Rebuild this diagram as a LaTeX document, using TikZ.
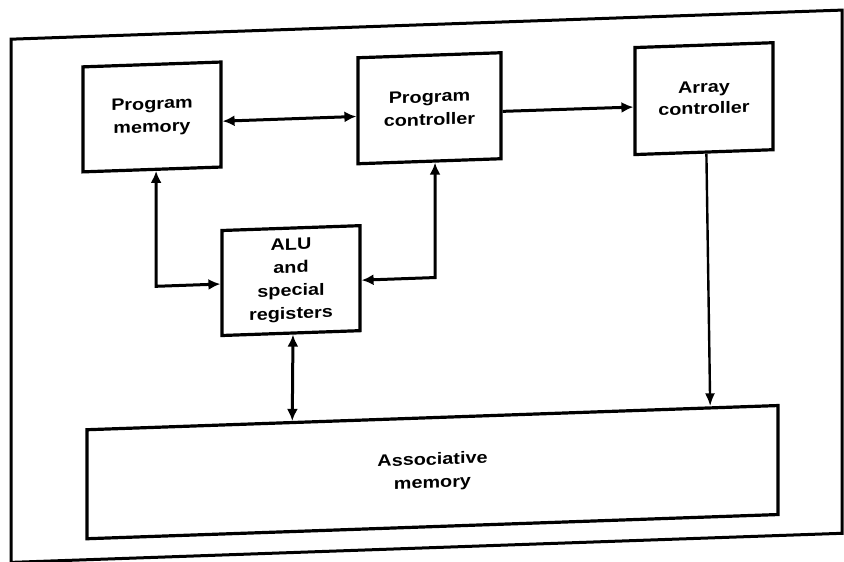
\documentclass[tikz,border=0pt]{standalone}
\usepackage{fontspec}
\setmainfont{Liberation Sans}
\newfontfamily\blockfont[FakeStretch=1.2]{Liberation Sans Bold}
\usetikzlibrary{arrows.meta,calc}
\begin{document}
\begin{tikzpicture}[x=1pt,y=-1pt,
  blockbox/.style={draw, line width=3.2pt, inner sep=0pt, align=center,
    font=\blockfont\fontsize{16.5}{23}\selectfont, transform shape},
  link/.style={line width=3pt, {Latex[length=12pt,width=11pt]}-{Latex[length=12pt,width=11pt]}},
  feed/.style={line width=3pt, -{Latex[length=12pt,width=11pt]}},
  thinfeed/.style={line width=2.4pt, -{Latex[length=13pt,width=10pt]}}]
\useasboundingbox (0,0) rectangle (844,562);
\fill[white] (0,0) rectangle (844,562);
% the whole page is printed with a slight slant
\begin{scope}[cm={1,0.035,0,1,(0pt,-14.77pt)}]
  % outer frame
  \draw[line width=3pt] (11,24.8) -- (842,24.8) -- (842,548) -- (11,548) -- cycle;

  % blocks
  \node[blockbox, minimum width=138pt, minimum height=105pt] (pm)  at (152,107.5) {Program\\memory};
  \node[blockbox, minimum width=143pt, minimum height=106pt] (pc)  at (429.5,108.5) {Program\\controller};
  \node[blockbox, minimum width=138pt, minimum height=107pt] (ac)  at (704,108.5) {\raisebox{2pt}{\shortstack{Array\\[3pt]controller}}};
  \node[blockbox, minimum width=138pt, minimum height=105pt] (alu) at (291,276) {ALU\\and\\special\\registers};
  \node[blockbox, minimum width=691pt, minimum height=109pt] (am)  at (432.5,472.5) {Associative\\memory};

  % bends of the two links to the ALU
  \coordinate (pmbend) at (156,277);
  \coordinate (pcbend) at (435,278);

  % connectors
  \draw[link] ($(pm.north east)!0.562!(pm.south east)$) -- ($(pc.north west)!0.552!(pc.south west)$);
  \draw[feed] ($(pc.north east)!0.552!(pc.south east)$) -- ($(ac.north west)!0.554!(ac.south west)$);
  \draw[link] ($(pm.south west)!0.529!(pm.south east)$) -- (pmbend) -- ($(alu.north west)!0.509!(alu.south west)$);
  \draw[link] ($(pc.south west)!0.538!(pc.south east)$) -- (pcbend) -- ($(alu.north east)!0.519!(alu.south east)$);
  \draw[link] ($(alu.south west)!0.514!(alu.south east)$) -- ($(am.north west)!0.298!(am.north east)$);
  \draw[thinfeed] ($(ac.south west)!0.517!(ac.south east)$) -- ($(am.north west)!0.900!(am.north east)$);
\end{scope}
\end{tikzpicture}
\end{document}
